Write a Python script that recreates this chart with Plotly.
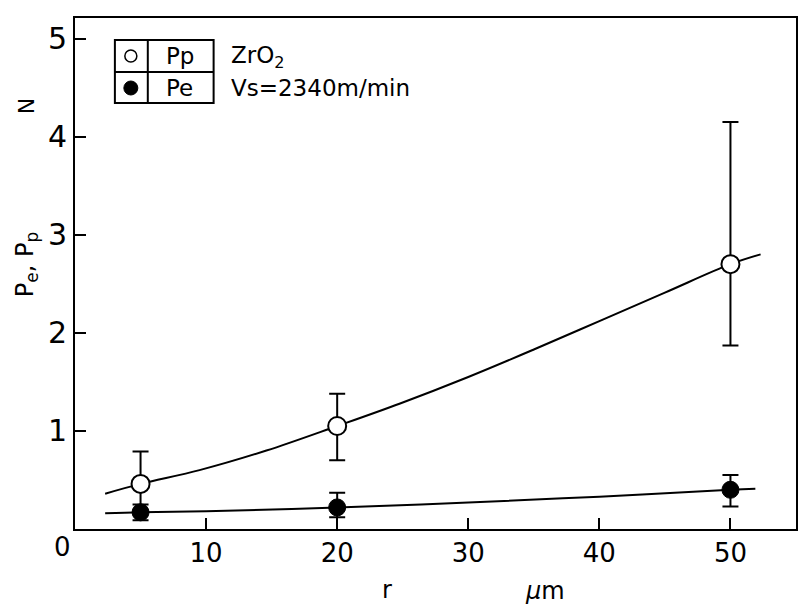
import plotly.graph_objects as go

# ---- data ----
r_pts = [5, 20, 50]
pp_vals = [0.46, 1.05, 2.70]
pp_err_plus = [0.33, 0.33, 1.45]
pp_err_minus = [0.29, 0.35, 0.83]
pe_vals = [0.17, 0.22, 0.40]
pe_err_plus = [0.08, 0.15, 0.15]
pe_err_minus = [0.08, 0.10, 0.17]

pp_fit_r = [2.3, 5, 9.5, 14.6, 20, 24.8, 30, 35, 40, 45, 50, 52.3]
pp_fit_v = [0.36, 0.46, 0.60, 0.80, 1.05, 1.28, 1.55, 1.83, 2.12, 2.41, 2.70, 2.80]
pe_fit_r = [2.3, 5, 10, 20, 30, 40, 50, 51.9]
pe_fit_v = [0.16, 0.17, 0.18, 0.22, 0.27, 0.33, 0.40, 0.41]

x_ticks = [10, 20, 30, 40, 50]
y_ticks = [1, 2, 3, 4, 5]
y_ticktext = ["1", "2", "3", "4", "5"]

FONT = "DejaVu Sans"

fig = go.Figure()
fig.add_trace(go.Scatter(x=pp_fit_r, y=pp_fit_v, mode="lines", line=dict(color="black", width=2, shape="spline"),
                         hoverinfo="skip", showlegend=False))
fig.add_trace(go.Scatter(x=pe_fit_r, y=pe_fit_v, mode="lines", line=dict(color="black", width=2, shape="spline"),
                         hoverinfo="skip", showlegend=False))
fig.add_trace(go.Scatter(
    x=r_pts, y=pe_vals, mode="markers", name="Pe",
    marker=dict(symbol="circle", size=17, color="black", line=dict(color="black", width=1)),
    error_y=dict(type="data", symmetric=False, array=pe_err_plus, arrayminus=pe_err_minus,
                 color="black", thickness=2, width=8),
    showlegend=False))
fig.add_trace(go.Scatter(
    x=r_pts, y=pp_vals, mode="markers", name="Pp",
    marker=dict(symbol="circle", size=18, color="white", line=dict(color="black", width=2)),
    error_y=dict(type="data", symmetric=False, array=pp_err_plus, arrayminus=pp_err_minus,
                 color="black", thickness=2, width=8),
    showlegend=False))

fig.update_xaxes(range=[0, 55.0], tickvals=x_ticks, ticks="inside", ticklen=11, tickwidth=2,
                 tickcolor="black", showline=True, linecolor="black", linewidth=2, mirror=True,
                 showgrid=False, zeroline=False, tickfont=dict(family=FONT, size=26, color="black"))
fig.update_yaxes(range=[0, 5.21], tickvals=y_ticks, ticktext=y_ticktext, ticks="inside", ticklen=11,
                 tickwidth=2, tickcolor="black", showline=True, linecolor="black", linewidth=2, mirror=True,
                 showgrid=False, zeroline=False, tickfont=dict(family=FONT, size=30, color="black"))

L, R, T, B = 75, 4, 18, 82
W, H = 802, 611
pw, ph = W - L - R, H - T - B


def px(xp):
    return (xp - L) / pw


def py(yp):
    return (H - B - yp) / ph


def note(text, x, y, size, xanchor="center", angle=0):
    return dict(text=text, x=px(x), y=py(y), xref="paper", yref="paper", showarrow=False,
                xanchor=xanchor, yanchor="middle", textangle=angle,
                font=dict(family=FONT, size=size, color="black"))


ann = [
    note("0", 62, 547, 26),
    note("N", 26, 106, 22, angle=-90),
    note("P<sub>e</sub>, P<sub>p</sub>", 26, 265, 24, angle=-90),
    note("r", 388, 590, 24),
    note("<i>μ</i>m", 546, 591, 24),
    note("Pp", 180, 56, 23),
    note("Pe", 180, 88, 23),
    note("ZrO<sub>2</sub>", 229, 57, 23, xanchor="left"),
    note("Vs=2340m/min", 229, 88, 23, xanchor="left"),
]

shapes = []
shapes.append(dict(type="rect", xref="paper", yref="paper", x0=px(115), x1=px(214), y0=py(103), y1=py(40),
                   line=dict(color="black", width=2)))
shapes.append(dict(type="line", xref="paper", yref="paper", x0=px(148), x1=px(148), y0=py(103), y1=py(40),
                   line=dict(color="black", width=2)))
shapes.append(dict(type="line", xref="paper", yref="paper", x0=px(115), x1=px(214), y0=py(72), y1=py(72),
                   line=dict(color="black", width=2)))
shapes.append(dict(type="circle", xref="paper", yref="paper", xsizemode="pixel", ysizemode="pixel",
                   xanchor=px(131), yanchor=py(56), x0=-6, x1=6, y0=-6, y1=6,
                   line=dict(color="black", width=1.5), fillcolor="white"))
shapes.append(dict(type="circle", xref="paper", yref="paper", xsizemode="pixel", ysizemode="pixel",
                   xanchor=px(131), yanchor=py(88), x0=-7, x1=7, y0=-7, y1=7,
                   line=dict(color="black", width=1), fillcolor="black"))

fig.update_layout(width=W, height=H, margin=dict(l=L, r=R, t=T, b=B, pad=0),
                  paper_bgcolor="white", plot_bgcolor="white", annotations=ann, shapes=shapes,
                  font=dict(family=FONT, color="black"))

fig.write_html("out.html")
